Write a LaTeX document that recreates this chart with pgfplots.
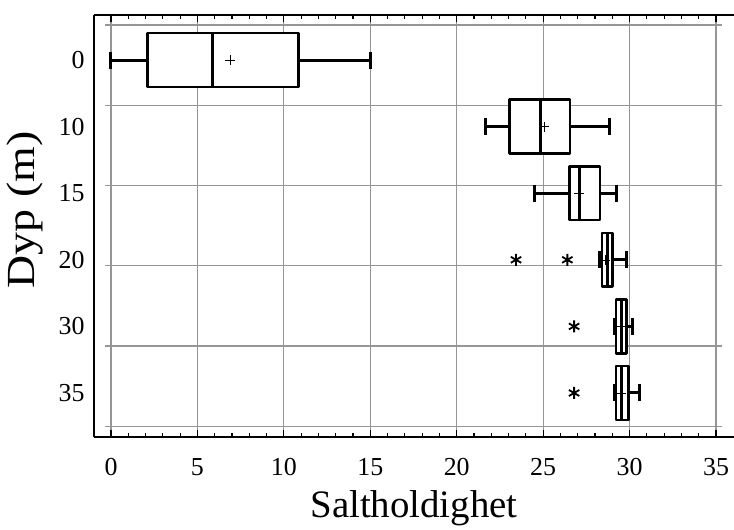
\documentclass[border=0pt]{standalone}
\usepackage{fontspec}
\setmainfont{Liberation Serif}
\usepackage{graphicx}
\usepackage{pgfplots}
\pgfplotsset{compat=1.18}
\usepgfplotslibrary{statistics}
\definecolor{gridgray}{RGB}{150,150,150}
\begin{document}
\begin{tikzpicture}
\useasboundingbox (0,0) rectangle (734bp,530bp);
\begin{axis}[
  at={(94bp,93bp)}, anchor=south west,
  scale only axis, width=640bp, height=422bp,
  xmin=-0.983, xmax=36.04,
  ymin=0.324, ymax=6.661, y dir=reverse,
  axis y line*=left,
  axis line style={line width=1.3bp},
  xtick={0,5,...,35}, minor x tick num=4,
  tick align=inside,
  major tick length=7bp, minor tick length=4bp,
  every tick/.style={black, line width=1.1bp},
  xmajorgrids,
  major grid style={gridgray, line width=1.2bp},
  ytick=\empty,
  extra y ticks={1,2,3,4,5,6},
  extra y tick labels={0,10,15,20,30,35},
  extra y tick style={major tick length=0pt, grid=none},
  /pgf/number format/assume math mode=true,
  tick label style={font=\fontsize{26}{26}\selectfont},
  xticklabel style={yshift=-18bp},
  yticklabel style={xshift=-6bp},
  xlabel={Saltholdighet},
  ylabel={\scalebox{1.15}[1]{Dyp (m)}},
  xlabel style={font=\fontsize{39}{39}\selectfont, yshift=-8bp},
  ylabel style={font=\fontsize{40}{40}\selectfont, at={(ticklabel cs:0.538,9bp)}},
  boxplot/box extend=0.81,
  boxplot/whisker extend=0.255,
  boxplot/every box/.style={/tikz/draw=black, /tikz/fill=white, /tikz/line width=2.6bp, /tikz/line join=round},
  boxplot/every whisker/.style={/tikz/draw=black, /tikz/line width=3bp},
  boxplot/every median/.style={/tikz/draw=black, /tikz/line width=2.6bp},
  boxplot/every average/.style={/tikz/mark=+, /tikz/mark size=5bp, /tikz/mark options={black, line width=0.9bp, solid}},
  outl/.style={black, mark=asterisk, mark size=6bp, mark options={line width=1.8bp}},
]
% horizontal grid lines
\pgfplotsinvokeforeach{0.474,1.679,2.884,4.089,5.294,6.499}{
  \addplot[gridgray, line width=1.2bp, forget plot] coordinates {(-0.35,#1) (35.35,#1)};
}
% 0 m
\addplot[black, boxplot prepared={draw position=1, lower whisker=0, lower quartile=2.1, median=5.88, upper quartile=10.84, upper whisker=15.04, average=6.88}] coordinates {};
% 10 m
\addplot[black, boxplot prepared={draw position=2, lower whisker=21.69, lower quartile=23.04, median=24.85, upper quartile=26.55, upper whisker=28.83, average=25.06}] coordinates {};
% 15 m
\addplot[black, boxplot prepared={draw position=3, lower whisker=24.47, lower quartile=26.51, median=27.09, upper quartile=28.29, upper whisker=29.25, average=27.1}] coordinates {};
% 20 m
\addplot[outl,
  boxplot prepared={draw position=4, lower whisker=28.25, lower quartile=28.4, median=28.73, upper quartile=29.02, upper whisker=29.8, average=28.6}]
  table[row sep=\\, y index=0]{data\\ 23.43\\ 26.4\\};
% 30 m
\addplot[outl,
  boxplot prepared={draw position=5, lower whisker=29.1, lower quartile=29.21, median=29.54, upper quartile=29.83, upper whisker=30.18, average=29.5}]
  table[row sep=\\, y index=0]{data\\ 26.79\\};
% 35 m
\addplot[outl,
  boxplot prepared={draw position=6, lower whisker=29.1, lower quartile=29.21, median=29.54, upper quartile=29.92, upper whisker=30.6, average=29.5}]
  table[row sep=\\, y index=0]{data\\ 26.79\\};
\end{axis}
\end{tikzpicture}
\end{document}
